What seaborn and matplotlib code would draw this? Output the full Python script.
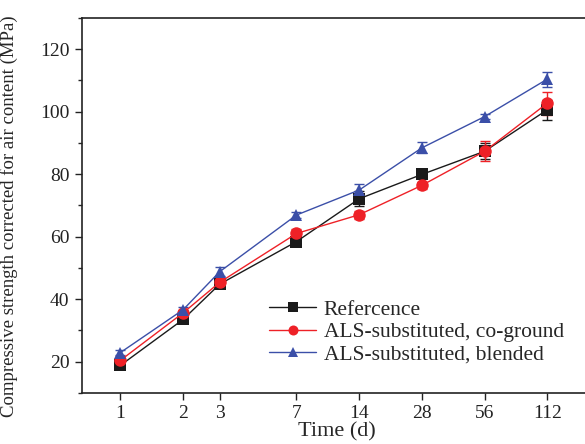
import numpy as np
import pandas as pd
import matplotlib
matplotlib.use("Agg")
import matplotlib.pyplot as plt
import seaborn as sns

days = [1, 2, 3, 7, 14, 28, 56, 112]
tick_labels = ["1", "2", "3", "7", "14", "28", "56", "112"]
ref = [18.8, 33.5, 44.8, 58.4, 72.1, 79.9, 87.3, 100.6]
ref_err = [1.0, 1.0, 1.0, 1.5, 2.4, 1.2, 2.5, 3.2]
cog = [20.4, 35.6, 45.4, 61.0, 67.0, 76.4, 87.3, 102.7]
cog_err = [1.0, 1.0, 1.0, 1.5, 1.3, 1.2, 3.2, 3.7]
bld = [22.9, 36.6, 48.8, 66.9, 74.9, 88.4, 98.4, 110.4]
bld_err = [0.8, 1.0, 1.5, 1.0, 1.8, 1.8, 0.8, 2.4]
names = ["Refercence", "ALS-substituted, co-ground", "ALS-substituted, blended"]

sns.set_theme(style="ticks")
plt.rcParams["font.family"] = ["Liberation Serif", "DejaVu Serif"]

colors = ["#1a1a1a", "#ee2127", "#3b4fa8"]
markers = ["s", "o", "^"]

fig = plt.figure(figsize=(5.85, 4.44), dpi=100)
ax = fig.add_axes([0.140, 0.115, 0.87, 0.845])

series = [(ref, ref_err), (cog, cog_err), (bld, bld_err)]
rows = []
for n, (v, e) in zip(names, series):
    for d, y in zip(days, v):
        rows.append({"day": d, "val": y, "series": n})
df = pd.DataFrame(rows)

for i, (n, (v, e)) in enumerate(zip(names, series)):
    ax.errorbar(days, v, yerr=e, fmt="none", ecolor=colors[i], elinewidth=1.0,
                capsize=3.5, capthick=1.0, zorder=2)

sns.lineplot(data=df, x="day", y="val", hue="series", style="series",
             palette=dict(zip(names, colors)), markers=dict(zip(names, markers)),
             dashes=False, markersize=9, linewidth=1.0, markeredgewidth=0,
             ax=ax, legend=True, zorder=3)

ax.set_xscale("log", base=2)
ax.set_xlim(0.654, 181)
ax.set_ylim(10, 130)
ax.set_xticks(days)
ax.set_xticklabels(tick_labels)
ax.xaxis.set_minor_locator(matplotlib.ticker.NullLocator())
ax.set_yticks([20, 40, 60, 80, 100, 120])
ax.yaxis.set_minor_locator(matplotlib.ticker.MultipleLocator(10))
ax.tick_params(axis="both", which="major", direction="out", length=5, width=1,
               labelsize=14, colors="#222222", pad=4)
ax.tick_params(axis="y", which="minor", direction="out", length=3, width=1)
for s in ["left", "bottom", "top"]:
    ax.spines[s].set_linewidth(1.2)
    ax.spines[s].set_color("#222222")
ax.spines["right"].set_visible(False)

ax.set_xlabel("Time (d)", fontsize=16, labelpad=0)
ax.set_ylabel("Compressive strength corrected for air content (MPa)", fontsize=13.5, labelpad=3)
ax.yaxis.set_label_coords(-0.125, 0.47)

ax.legend(loc="lower left", bbox_to_anchor=(0.338, 0.036), frameon=False,
          fontsize=15.5, handlelength=2.2, handletextpad=0.35, labelspacing=0.1,
          borderpad=0.2, markerscale=0.8)

fig.savefig("out.png", dpi=100)
